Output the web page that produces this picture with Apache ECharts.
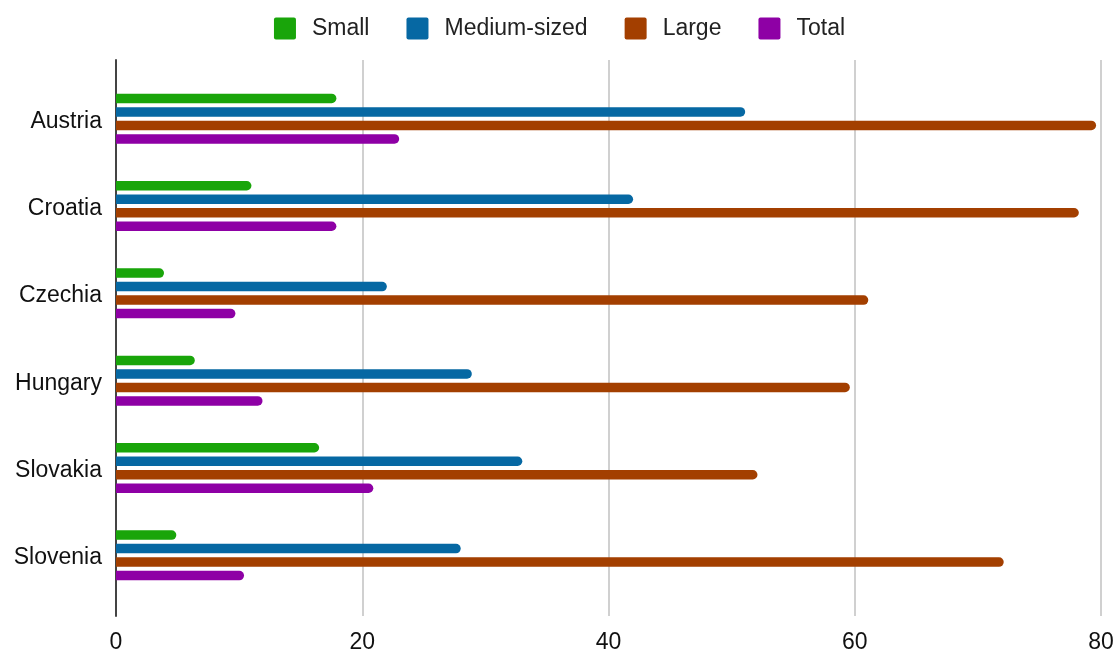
<!DOCTYPE html>
<html>
<head>
<meta charset="utf-8">
<script src="https://cdn.jsdelivr.net/npm/echarts@6/dist/echarts.min.js"></script>
<style>
  html, body { margin: 0; padding: 0; background: #fff; }
  #chart { width: 1119px; height: 657px; }
</style>
</head>
<body>
<div id="chart"></div>
<script>
// Countries, top to bottom
const countries = ['Austria', 'Croatia', 'Czechia', 'Hungary', 'Slovakia', 'Slovenia'];
// Values per enterprise size class
const small = [17.9, 11.0, 3.9, 6.4, 16.5, 4.9];
const mediumSized = [51.1, 42.0, 22.0, 28.9, 33.0, 28.0];
const large = [79.6, 78.2, 61.1, 59.6, 52.1, 72.1];
const total = [23.0, 17.9, 9.7, 11.9, 20.9, 10.4];
const xTicks = [0, 20, 40, 60, 80];

const seriesNames = ['Small', 'Medium-sized', 'Large', 'Total'];
const seriesData = [small, mediumSized, large, total];
const colors = ['#19a50a', '#0668a3', '#a33f00', '#8e00a5'];

const font = '"Liberation Sans", Arial, sans-serif';
const chart = echarts.init(document.getElementById('chart'));

const G = { left: 116, width: 985 };

chart.setOption({
  animation: false,
  color: colors,
  legend: {
    top: 12,
    left: 'center',
    itemWidth: 22,
    itemHeight: 22,
    itemGap: 37,
    icon: 'path://M2,0 L20,0 Q22,0 22,2 L22,20 Q22,22 20,22 L2,22 Q0,22 0,20 L0,2 Q0,0 2,0 Z',
    textStyle: { fontFamily: font, fontSize: 23, color: '#222', padding: [0, 0, 0, 11] },
    data: seriesNames
  },
  grid: [
    // frame grid: gridlines, value labels and the left axis line
    { left: G.left, width: G.width, top: 60, bottom: 41 },
    // bar grid: category bands inset from the frame
    { left: G.left, width: G.width, top: 75, height: 524 }
  ],
  xAxis: [
    {
      gridIndex: 0, type: 'value', min: 0, max: 80, interval: 20,
      axisLine: { show: false }, axisTick: { show: false },
      splitLine: { lineStyle: { color: '#d0d0d0', width: 2 } },
      axisLabel: {
        fontFamily: font, fontSize: 23, color: '#111', margin: 15,
        formatter: v => xTicks.includes(v) ? String(v) : ''
      }
    },
    {
      gridIndex: 1, type: 'value', min: 0, max: 80, show: false
    }
  ],
  yAxis: [
    {
      gridIndex: 0, type: 'category', data: [''],
      axisLine: { show: true, lineStyle: { color: '#444', width: 2 } },
      axisTick: { show: false }, axisLabel: { show: false }, splitLine: { show: false }
    },
    {
      gridIndex: 1, type: 'category', data: countries, inverse: true,
      axisLine: { show: false }, axisTick: { show: false },
      axisLabel: {
        margin: 14,
        formatter: v => '{c|' + v + '}',
        rich: {
          c: { fontFamily: font, fontSize: 23, color: '#111', padding: [5, 0, 0, 0] }
        }
      }
    }
  ],
  series: seriesNames.map((name, i) => ({
    name,
    type: 'bar',
    xAxisIndex: 1,
    yAxisIndex: 1,
    data: seriesData[i],
    barWidth: 9.5,
    barGap: '42%',
    itemStyle: { color: colors[i], borderRadius: [0, 5, 5, 0] }
  }))
});
</script>
</body>
</html>
